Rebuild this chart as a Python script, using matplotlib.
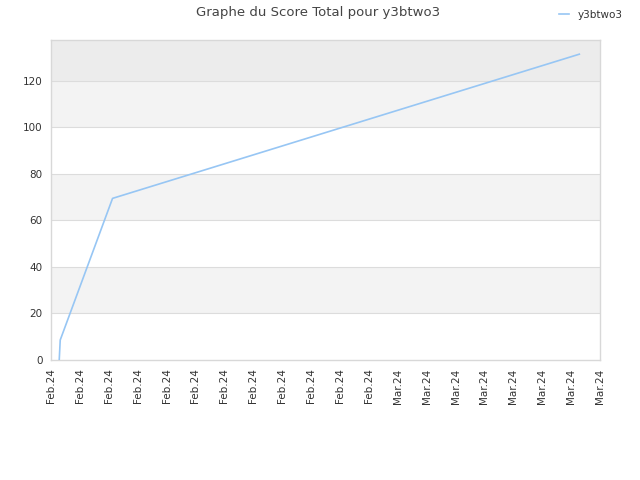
import matplotlib
matplotlib.use("Agg")
import matplotlib.pyplot as plt
import matplotlib.dates as mdates
import pandas as pd

title = "Graphe du Score Total pour y3btwo3"
series_name = "y3btwo3"
dates = ["2024-02-07 13:40", "2024-02-07 15:20", "2024-02-11 06:15", "2024-03-14 13:40"]
scores = [0, 8.6, 69.5, 131.5]
tick_labels = ["Feb.24"] * 12 + ["Mar.24"] * 8
tick_start = "2024-02-07"
yticks = [0, 20, 40, 60, 80, 100, 120]

fig = plt.figure(figsize=(6.4, 4.8), dpi=100)
ax = fig.add_axes([51/640, 1-360/480, 549/640, 320/480])

x = mdates.date2num(pd.to_datetime(dates))
tick_pos = mdates.date2num(pd.date_range(tick_start, periods=len(tick_labels), freq="2D"))

ymax = 137.6
# alternating bands
for i, lo in enumerate(range(0, 140, 20)):
    hi = min(lo + 20, ymax)
    if lo >= 120:
        c = "#ececec"
    elif i % 2 == 1:
        c = "#f3f3f3"
    else:
        c = "#ffffff"
    ax.axhspan(lo, hi, color=c, zorder=0, lw=0)
for v in yticks[1:]:
    ax.axhline(v, color="#dcdcdc", lw=0.8, zorder=1)

ax.plot(x, scores, color="#97c6f4", lw=1.2, label=series_name, zorder=3)

ax.set_xlim(tick_pos[0], tick_pos[-1])
ax.set_ylim(0, ymax)
ax.set_xticks(tick_pos)
ax.set_xticklabels(tick_labels, rotation=90, fontsize=7.5, color="#333333")
ax.set_yticks(yticks)
ax.set_yticklabels([str(v) for v in yticks], fontsize=7.5, color="#333333")
ax.tick_params(length=0, pad=6)
for s in ax.spines.values():
    s.set_color("#d8d8d8")
    s.set_linewidth(1)

fig.text(318/640, 1-12.5/480, title, ha="center", va="center", fontsize=9.5, color="#444444")
fig.legend(loc="center right", bbox_to_anchor=(632/640, 1-15/480), frameon=False,
           fontsize=7.5, handlelength=1.0, handletextpad=0.8, labelcolor="#333333")

fig.savefig("out.png", dpi=100, facecolor="white")
